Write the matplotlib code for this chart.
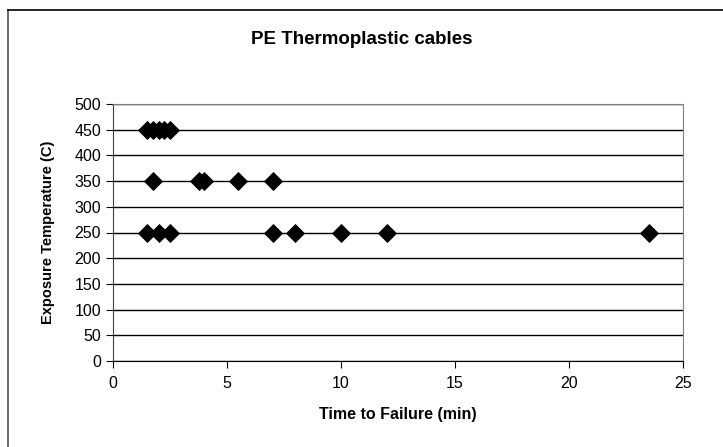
import matplotlib.pyplot as plt
from matplotlib.lines import Line2D

plt.rcParams['font.family'] = ['Liberation Sans', 'DejaVu Sans']

time_450 = [1.5, 1.75, 2.0, 2.25, 2.5]
time_350 = [1.75, 3.75, 4.0, 5.5, 7.0]
time_250 = [1.5, 2.0, 2.5, 7.0, 8.0, 10.0, 12.0, 23.5]
temps = [450, 350, 250]

W, H = 723, 447
fig = plt.figure(figsize=(W / 100, H / 100), dpi=100)
ax = fig.add_axes([113 / W, 1 - 361 / H, 570 / W, 257 / H])

for t, xs in zip(temps, [time_450, time_350, time_250]):
    ax.scatter(xs, [t] * len(xs), marker='D', s=95, color='black', zorder=3, linewidths=0)

ax.set_xlim(0, 25)
ax.set_ylim(0, 500)
ax.set_xticks(range(0, 26, 5))
ax.set_yticks(range(0, 501, 50))
ax.yaxis.grid(True, color='black', linewidth=1)
ax.set_axisbelow(True)
ax.tick_params(axis='both', labelsize=11.5, direction='out', length=5, color='black')
ax.tick_params(axis='x', pad=6)
for s in ['top', 'right']:
    ax.spines[s].set_color('#808080')
ax.spines['left'].set_color('#404040')
ax.spines['bottom'].set_color('black')

ax.set_xlabel('Time to Failure (min)', fontsize=11.5, fontweight='bold', labelpad=11)
ax.set_ylabel('Exposure Temperature (C)', fontsize=10.5, fontweight='bold', labelpad=14)
fig.text(0.5, 1 - 40 / H, 'PE Thermoplastic cables', ha='center', va='center',
         fontsize=13.5, fontweight='bold')

# outer chart frame (only left and top edges fall inside the image)
fig.add_artist(Line2D([8 / W, 8 / W], [0, 1 - 10 / H], transform=fig.transFigure,
                      color='#505050', linewidth=1.2))
fig.add_artist(Line2D([8 / W, 1], [1 - 10 / H, 1 - 10 / H], transform=fig.transFigure,
                      color='black', linewidth=1.2))

fig.savefig('out.png', dpi=100)
